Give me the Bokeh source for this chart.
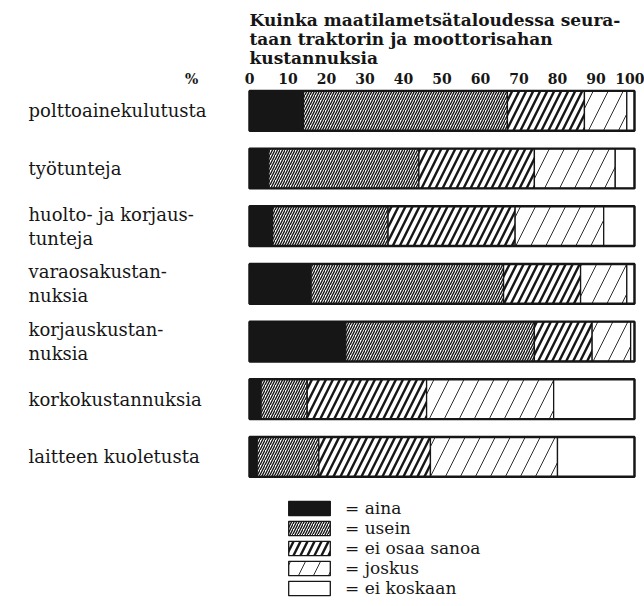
import numpy as np
from bokeh.plotting import figure
from bokeh.models import Range1d, FixedTicker, Legend, LegendItem, Title
from bokeh.core.properties import value
from bokeh.embed import file_html
from bokeh.resources import INLINE

# ---- data -------------------------------------------------------------
categories = [
    "polttoainekulutusta",
    "työtunteja",
    "huolto- ja korjaus-\ntunteja",
    "varaosakustan-\nnuksia",
    "korjauskustan-\nnuksia",
    "korkokustannuksia",
    "laitteen  kuoletusta",
]
series = ["aina", "usein", "ei osaa sanoa", "joskus", "ei koskaan"]
aina = [14, 5, 6, 16, 25, 3, 2]
usein = [53, 39, 30, 50, 49, 12, 16]
ei_osaa_sanoa = [20, 30, 33, 20, 15, 31, 29]
joskus = [11, 21, 23, 12, 10, 33, 33]
ei_koskaan = [2, 5, 8, 2, 1, 21, 20]
tick_values = [0, 10, 20, 30, 40, 50, 60, 70, 80, 90, 100]
unit_label = "%"
title_text = ("Kuinka maatilametsätaloudessa seura-\n"
              "taan traktorin ja moottorisahan\n"
              "kustannuksia")

# ---- styles -----------------------------------------------------------
INK = "#161616"
fills = [INK, "white", "white", "white", "white"]
hatches = [" ", "right_diagonal_line", "right_diagonal_line", "right_diagonal_line", " "]
hatch_scales = [6, 5, 14, 30, 6]
hatch_weights = [1, 1.4, 2.4, 0.9, 1]
SERIF = "DejaVu Serif"

values = np.array([aina, usein, ei_osaa_sanoa, joskus, ei_koskaan], dtype=float)
rights = np.cumsum(values, axis=0)
lefts = rights - values
ypos = -np.arange(len(categories))

p = figure(width=644, height=606, output_backend="svg", toolbar_location=None,
           x_range=Range1d(-64.68, 102.6), y_range=Range1d(-8.594, 0.387),
           x_axis_location="above", y_axis_location=None,
           min_border_left=0, min_border_right=0, min_border_top=0, min_border_bottom=0)
p.outline_line_color = None
p.xgrid.visible = False
p.ygrid.visible = False
p.background_fill_color = "white"
p.border_fill_color = "white"

ax = p.xaxis[0]
ax.ticker = FixedTicker(ticks=[-15] + tick_values)
ax.major_label_overrides = {-15: unit_label}
ax.axis_line_color = None
ax.major_tick_line_color = None
ax.minor_tick_line_color = None
ax.major_tick_out = 0
ax.major_tick_in = 0
ax.minor_tick_out = 0
ax.minor_tick_in = 0
ax.major_label_standoff = 2
ax.major_label_text_font = SERIF
ax.major_label_text_font_size = "14px"
ax.major_label_text_font_style = "bold"
ax.major_label_text_color = INK

renderers = []
for i, name in enumerate(series):
    r = p.hbar(y=ypos, left=lefts[i], right=rights[i], height=0.69,
               fill_color=fills[i], line_color=INK, line_width=1.3,
               hatch_pattern=hatches[i], hatch_color=INK,
               hatch_scale=hatch_scales[i], hatch_weight=hatch_weights[i])
    renderers.append(r)

# outer frame of each bar
p.hbar(y=ypos, left=0, right=rights[-1], height=0.69, fill_color=None,
       line_color=INK, line_width=2.4)

p.text(x=-57.4, y=ypos, text=categories, text_align="left", text_baseline="middle",
       text_font=value(SERIF), text_font_size="18px", text_color=INK, text_line_height=1.15)

legend = Legend(items=[LegendItem(label="= " + s, renderers=[r]) for s, r in zip(series, renderers)],
                location=(283, 8), orientation="vertical", glyph_width=52, glyph_height=18,
                label_height=18, spacing=0, label_standoff=10, padding=0, margin=0,
                border_line_color=None, background_fill_alpha=0,
                label_text_font=SERIF, label_text_font_size="17px", label_text_color=INK)
p.add_layout(legend)

p.add_layout(Title(text=title_text, align="left", offset=249, text_font=SERIF,
                   text_font_size="17px", text_font_style="bold", text_color=INK,
                   text_line_height=0.95, standoff=0), "above")
# small blank strip above the title
p.add_layout(Title(text=" ", text_font_size="4px", standoff=0), "above")

open("out.html", "w").write(file_html(p, INLINE))
